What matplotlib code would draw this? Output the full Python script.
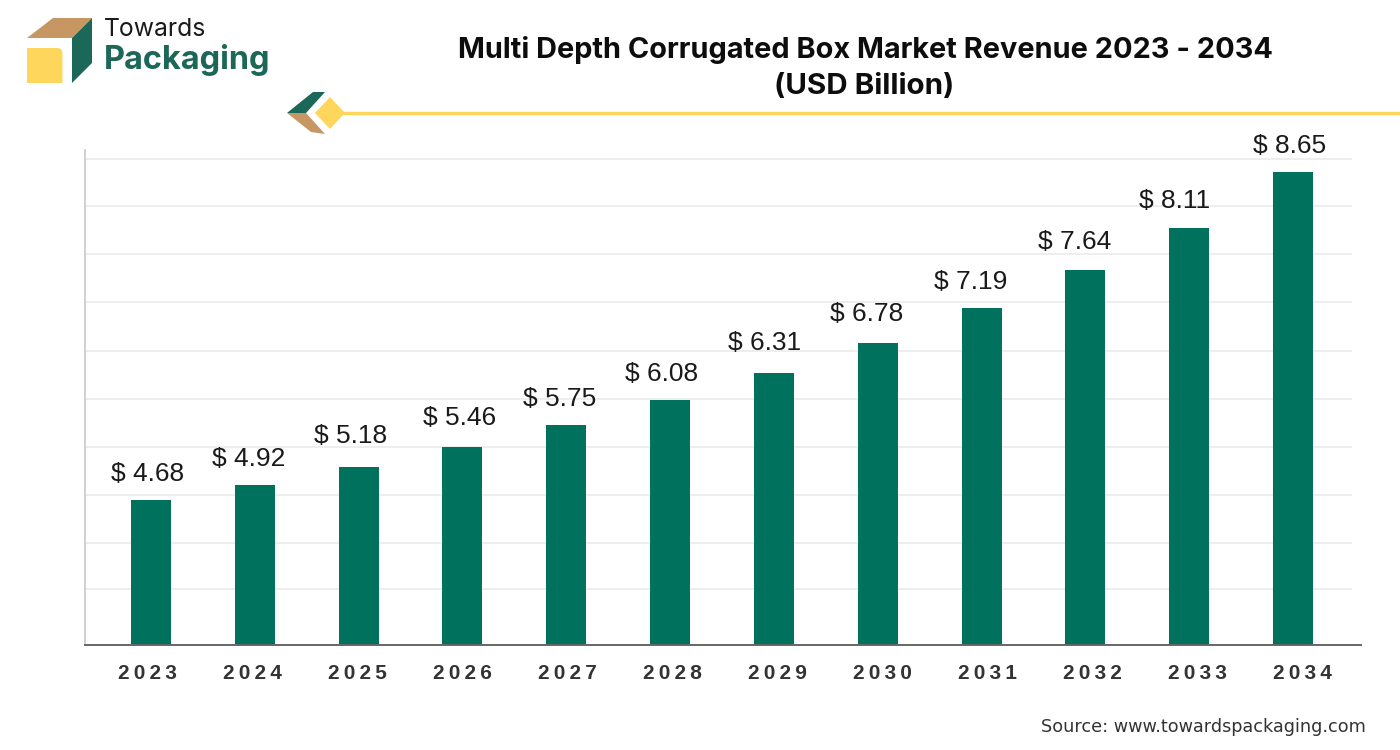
#!/usr/bin/env python

import matplotlib
matplotlib.use('Agg')
import matplotlib.pyplot as plt
from matplotlib.patches import Polygon

W, H = 1400, 750

years = ['2023', '2024', '2025', '2026', '2027', '2028',
         '2029', '2030', '2031', '2032', '2033', '2034']
labels = ['$ 4.68', '$ 4.92', '$ 5.18', '$ 5.46', '$ 5.75', '$ 6.08',
          '$ 6.31', '$ 6.78', '$ 7.19', '$ 7.64', '$ 8.11', '$ 8.65']
# bar heights as drawn in the picture (the source chart has no readable y scale)
drawn_heights = [2.99, 3.29, 3.66, 4.08, 4.53, 5.05,
                 5.60, 6.22, 6.96, 7.73, 8.60, 9.76]
grid_levels = [1.15, 2.09, 3.08, 4.08, 5.08, 6.07, 7.07, 8.06, 9.05, 10.04]

# the value labels sit unevenly over their bars in the original, offsets in pixels
label_dx = [-3.5, -6, -8.5, -3, -6.5, -9, -9, -11, -11, -11, -15, -3]
label_dy = [14, 14, 19, 17, 14, 14, 18, 17, 14, 16, 15, 14]

GREEN = '#00715c'
DARK = '#1b6758'
TAN = '#c69762'
YELLOW = '#ffd65c'

fig = plt.figure(figsize=(14, 7.5), dpi=100)

ax = fig.add_axes([85/W, 1 - 644.5/H, (1361-85)/W, (644.5-150)/H])
ax.set_xlim(-0.636, 11.655)
ax.set_ylim(0, 494.5/48.4)
ax.hlines(grid_levels, -0.636, 11.57, color='#e9e9e9', lw=1.1, zorder=1)
ax.bar(range(len(years)), drawn_heights, width=0.385, color=GREEN, zorder=2)

for i, (h, lab) in enumerate(zip(drawn_heights, labels)):
    ax.annotate(lab, (i, h), xytext=(label_dx[i], label_dy[i]), textcoords='offset pixels',
                ha='center', va='bottom', fontsize=19, family='Liberation Sans', color='#1a1a1a')

# year labels run slightly wider than the bars
ax.set_xticks([i * 1.0113 - 0.03 for i in range(len(years))])
ax.set_xticklabels(['\u2009'.join(y) for y in years], family='Liberation Sans',
                   fontweight='bold', fontsize=15, color='#333333')
ax.tick_params(axis='x', length=0, pad=14)
ax.set_yticks([])
ax.spines['top'].set_visible(False)
ax.spines['right'].set_visible(False)
ax.spines['left'].set_color('#c8c8c8')
ax.spines['left'].set_linewidth(1.2)
ax.spines['bottom'].set_color('#666666')
ax.spines['bottom'].set_linewidth(1.4)

# header, logo and source in picture pixels
top = fig.add_axes([0, 0, 1, 1], zorder=5)
top.set_xlim(0, W)
top.set_ylim(H, 0)
top.axis('off')

top.text(865, 50, 'Multi Depth Corrugated Box Market Revenue 2023 - 2034', ha='center',
         va='center', fontsize=20.8, fontweight='bold', family='Inter', color='#0d0d0d')
top.text(864, 86, '(USD Billion)', ha='center', va='center', fontsize=21.3,
         fontweight='bold', family='Inter', color='#0d0d0d')

# logo box
top.add_patch(Polygon([[27, 38], [53, 18], [92, 18], [72, 38]], color=TAN, lw=0))
top.add_patch(Polygon([[72, 38], [92, 18], [92, 63], [72, 83]], color=DARK, lw=0))
top.add_patch(Polygon([[27, 48], [58, 48], [61, 49], [62.5, 52], [62.5, 83], [27, 83]],
                      color=YELLOW, lw=0))
top.text(104, 30, 'Towards', va='center', fontsize=17.8, family='Inter', color='#1a1a1a')
top.text(104, 60, 'Packaging', va='center', fontsize=23.4, fontweight='bold',
         family='Inter', color=DARK)

# divider marker and line
top.add_patch(Polygon([[287, 113], [313, 92], [325, 92], [306, 113]], color=DARK, lw=0))
top.add_patch(Polygon([[287, 113], [306, 113], [325, 134], [311, 132]], color=TAN, lw=0))
top.add_patch(Polygon([[315, 113], [330, 97], [345, 113], [330, 129]], color=YELLOW, lw=0))
top.plot([340, 1400], [113, 113], color=YELLOW, lw=2.5, solid_capstyle='butt')

top.text(1366, 727, 'Source: www.towardspackaging.com', ha='right', va='center',
         fontsize=12.7, family='DejaVu Sans', color='#333333')

plt.savefig('out.png', dpi=100)
plt.close()
